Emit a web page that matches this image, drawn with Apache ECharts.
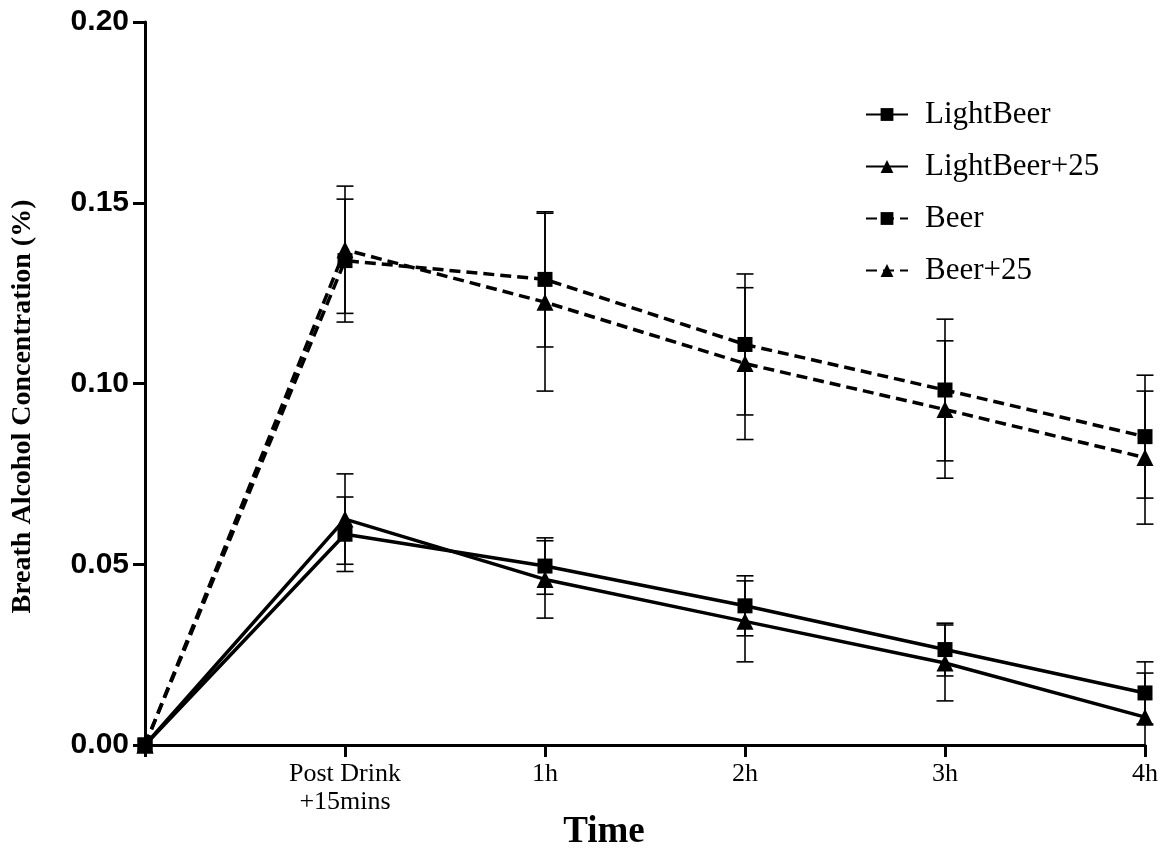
<!DOCTYPE html>
<html>
<head>
<meta charset="utf-8">
<script src="https://cdn.jsdelivr.net/npm/echarts@6/dist/echarts.min.js"></script>
<style>
html,body{margin:0;padding:0;background:#fff;}
#chart{width:1169px;height:855px;}
</style>
</head>
<body>
<div id="chart"></div>
<script>
const categories = ['', 'Post Drink\n+15mins', '1h', '2h', '3h', '4h'];
const yTicks = [0, 0.05, 0.10, 0.15, 0.20];

const lightBeer      = [0, 0.0583, 0.0495, 0.0385, 0.0264, 0.0144];
const lightBeerErr   = [0, 0.0103, 0.0078, 0.0083, 0.0073, 0.0086];
const lightBeer25    = [0, 0.0625, 0.0458, 0.0342, 0.0227, 0.0077];
const lightBeer25Err = [0, 0.0125, 0.0107, 0.0112, 0.0105, 0.0122];
const beer           = [0, 0.1340, 0.1288, 0.1108, 0.0982, 0.0853];
const beerErr        = [0, 0.0170, 0.0187, 0.0195, 0.0196, 0.0170];
const beer25         = [0, 0.1370, 0.1225, 0.1055, 0.0928, 0.0795];
const beer25Err      = [0, 0.0176, 0.0246, 0.0210, 0.0190, 0.0184];

const chart = echarts.init(document.getElementById('chart'));

function errorSeries(name, vals, errs) {
  return {
    type: 'custom',
    name: name + ' err',
    z: 1,
    silent: true,
    data: vals.map((v, i) => [i, v, errs[i]]),
    renderItem: function (params, api) {
      const i = api.value(0), v = api.value(1), e = api.value(2);
      if (!e) return null;
      const lo = Math.max(0, v - e), hi = v + e;
      const pHi = api.coord([i, hi]);
      const pLo = api.coord([i, lo]);
      const cw = 8.5;
      const style = { stroke: '#000', lineWidth: 1.6 };
      const children = [
        { type: 'line', shape: { x1: pHi[0], y1: pHi[1], x2: pLo[0], y2: pLo[1] }, style: style },
        { type: 'line', shape: { x1: pHi[0] - cw, y1: pHi[1], x2: pHi[0] + cw, y2: pHi[1] }, style: style }
      ];
      if (v - e >= 0) {
        children.push({ type: 'line', shape: { x1: pLo[0] - cw, y1: pLo[1], x2: pLo[0] + cw, y2: pLo[1] }, style: style });
      }
      return { type: 'group', children: children };
    }
  };
}

function lineSeries(name, vals, symbol, dashed) {
  return {
    type: 'line',
    name: name,
    data: vals,
    symbol: symbol,
    symbolSize: symbol === 'triangle' ? 17 : 15,
    z: 3,
    itemStyle: { color: '#000' },
    lineStyle: { color: '#000', width: 3.5, type: dashed ? [11, 6] : 'solid' },
    emphasis: { disabled: true },
    animation: false
  };
}

const option = {
  animation: false,
  backgroundColor: '#fff',
  grid: { left: 145, right: 24, top: 22, bottom: 110, containLabel: false, outerBoundsMode: 'none' },
  legend: {
    orient: 'vertical',
    left: 860,
    top: 94,
    itemGap: 21,
    itemWidth: 42,
    itemHeight: 16,
    data: ['LightBeer', 'LightBeer+25', 'Beer', 'Beer+25'],
    textStyle: { fontFamily: 'Liberation Serif', fontSize: 31, color: '#000', padding: [0, 0, 0, 12] },
    selectedMode: false
  },
  xAxis: {
    type: 'category',
    boundaryGap: false,
    data: categories,
    name: 'Time',
    nameLocation: 'middle',
    nameGap: 69,
    nameMoveOverlap: false,
    nameTextStyle: { fontFamily: 'Liberation Serif', fontWeight: 'bold', fontSize: 37, color: '#000', padding: [0, 82, 0, 0] },
    axisLine: { lineStyle: { color: '#000', width: 3 } },
    axisTick: { show: true, length: 12, lineStyle: { color: '#000', width: 3 } },
    axisLabel: { fontFamily: 'Liberation Serif', fontSize: 26, color: '#000', margin: 15, lineHeight: 28, interval: 0 },
    splitLine: { show: false }
  },
  yAxis: {
    type: 'value',
    min: 0,
    max: 0.20,
    interval: 0.05,
    name: 'Breath Alcohol Concentration (%)',
    nameLocation: 'middle',
    nameGap: 108,
    nameTextStyle: { fontFamily: 'Liberation Serif', fontWeight: 'bold', fontSize: 28, color: '#000', padding: [0, 46, 0, 0] },
    axisLine: { show: true, lineStyle: { color: '#000', width: 3 } },
    axisTick: { show: true, length: 12, lineStyle: { color: '#000', width: 3 } },
    axisLabel: {
      fontFamily: 'Liberation Sans', fontWeight: 'bold', fontSize: 30, color: '#000', margin: 16,
      formatter: function (v) { return yTicks.indexOf(Math.round(v * 100) / 100) >= 0 ? v.toFixed(2) : ''; }
    },
    splitLine: { show: false }
  },
  series: [
    errorSeries('LightBeer', lightBeer, lightBeerErr),
    errorSeries('LightBeer+25', lightBeer25, lightBeer25Err),
    errorSeries('Beer', beer, beerErr),
    errorSeries('Beer+25', beer25, beer25Err),
    lineSeries('LightBeer', lightBeer, 'rect', false),
    lineSeries('LightBeer+25', lightBeer25, 'triangle', false),
    lineSeries('Beer', beer, 'rect', true),
    lineSeries('Beer+25', beer25, 'triangle', true)
  ]
};
chart.setOption(option);
</script>
</body>
</html>
